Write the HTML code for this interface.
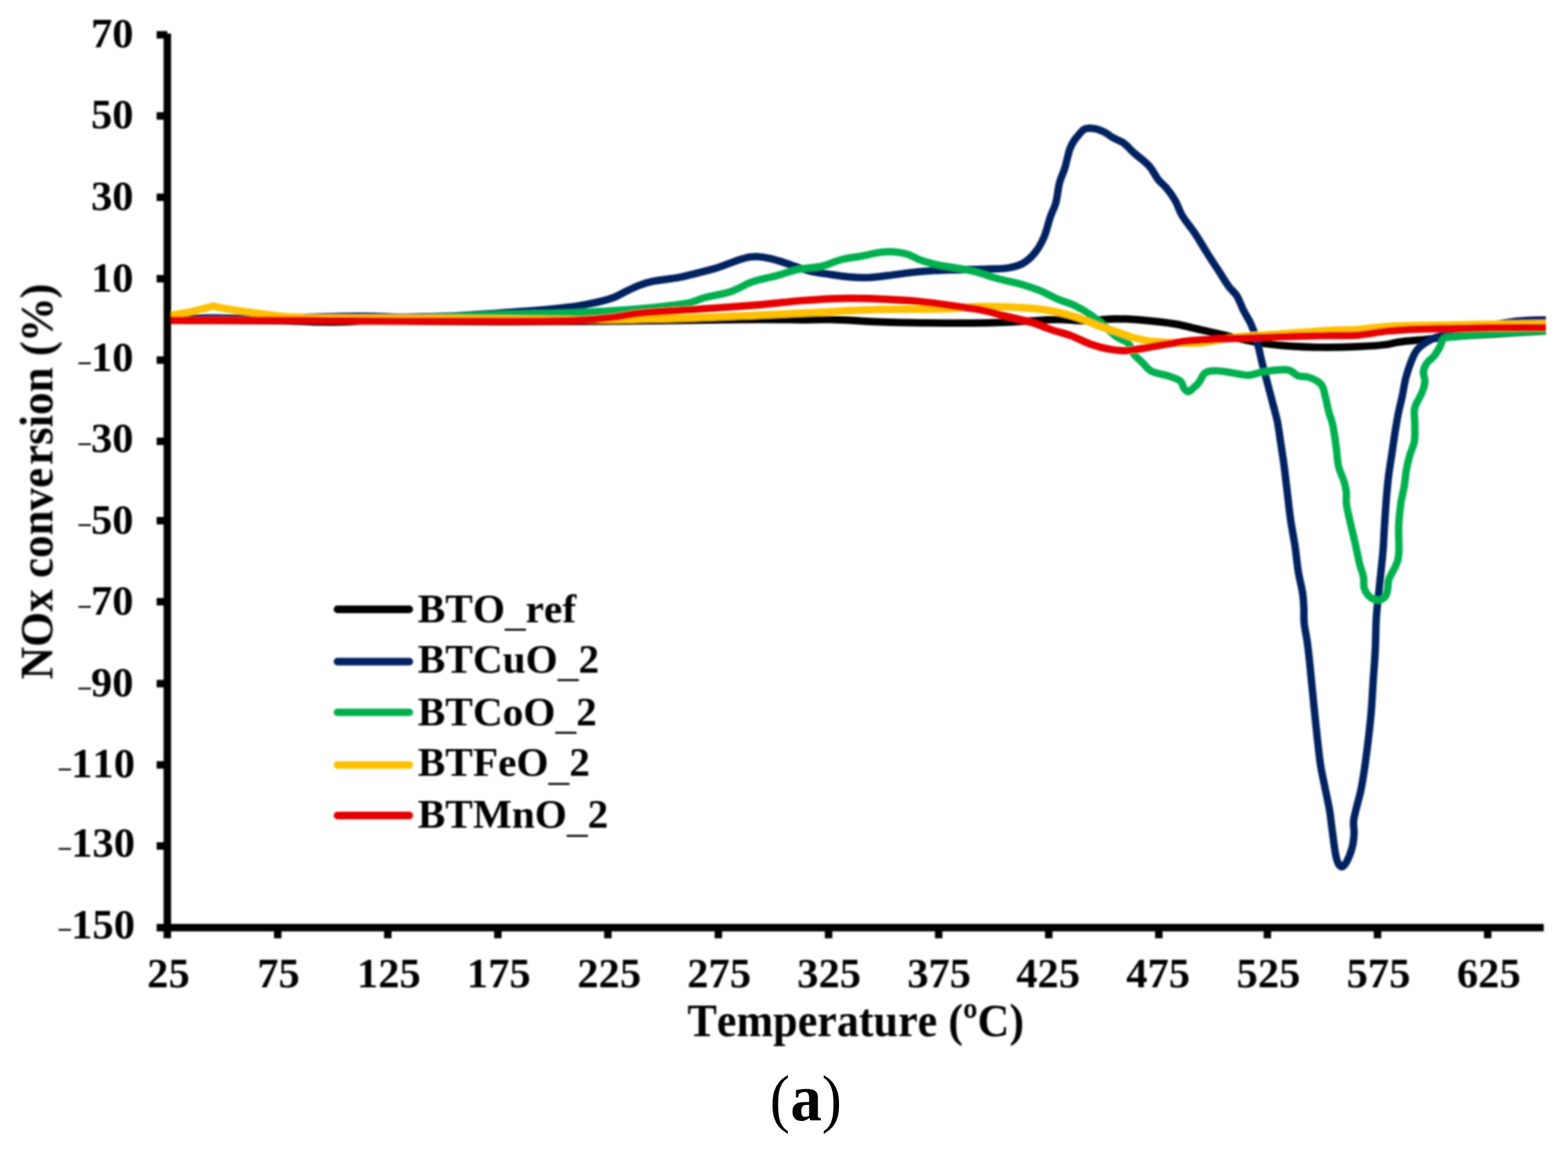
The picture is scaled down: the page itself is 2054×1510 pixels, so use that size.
<!DOCTYPE html>
<html lang="en">
<head>
<meta charset="utf-8">
<title>NOx conversion vs temperature</title>
<style>
html,body{margin:0;padding:0;background:#fff;}
body{width:2054px;height:1510px;overflow:hidden;}
svg{display:block;}
text{font-family:"Liberation Serif","DejaVu Serif",serif;fill:#000;font-weight:bold;font-kerning:none;}
.n{font-weight:normal;}
.curve{fill:none;stroke-width:9.7;stroke-linejoin:round;stroke-linecap:butt;}
</style>
</head>
<body>
<svg width="2054" height="1510" viewBox="0 0 2054 1510">
<defs><filter id="soft" x="0" y="0" width="2054" height="1510" filterUnits="userSpaceOnUse"><feGaussianBlur stdDeviation="0.8"/></filter></defs>
<rect width="2054" height="1510" fill="#ffffff"/>
<g filter="url(#soft)">

<g id="curves">
<path class="curve" stroke="#000000" d="M219.0,419.5C272.7,419.8 344.3,419.6 380.0,420.3C397.8,420.7 407.6,421.5 420.0,421.7C430.7,421.9 440.5,421.9 450.0,421.7C458.7,421.5 465.4,420.7 475.0,420.5C487.8,420.2 501.1,420.4 520.0,420.5C552.1,420.6 608.5,421.5 650.0,421.5C688.2,421.5 728.8,421.0 760.0,420.8C783.0,420.7 798.2,420.7 820.0,420.5C846.1,420.3 876.7,419.6 906.0,419.3C936.6,419.0 973.6,418.5 1000.0,418.5C1019.3,418.5 1033.8,418.8 1050.0,418.8C1065.3,418.8 1079.4,418.2 1094.8,418.6C1111.3,419.0 1126.4,420.7 1146.0,421.4C1172.5,422.4 1211.7,422.9 1239.6,423.1C1262.2,423.2 1281.5,423.3 1301.0,422.7C1318.8,422.2 1336.9,420.9 1352.2,420.1C1364.7,419.5 1374.9,418.4 1386.3,418.4C1397.7,418.4 1408.4,420.2 1420.4,420.1C1433.8,420.0 1448.8,417.6 1463.0,417.6C1477.2,417.6 1492.2,418.9 1505.6,420.1C1517.6,421.2 1528.3,422.4 1539.6,424.4C1551.0,426.4 1563.1,429.6 1573.7,432.0C1583.0,434.1 1592.0,436.1 1600.0,438.0C1606.7,439.6 1611.2,440.9 1618.4,442.5C1628.5,444.7 1642.7,448.0 1654.9,449.8C1667.0,451.6 1678.7,452.6 1691.4,453.4C1705.3,454.3 1720.7,454.8 1735.3,454.9C1749.9,455.0 1765.2,454.6 1779.1,453.9C1791.8,453.3 1805.9,452.5 1815.6,451.2C1822.0,450.3 1825.2,449.0 1831.6,448.1C1841.1,446.7 1855.5,445.7 1867.4,444.5C1879.3,443.3 1889.7,442.1 1903.0,441.0C1919.8,439.6 1940.4,438.5 1960.0,437.3C1981.0,436.0 2003.3,434.8 2025.0,433.5"/>
<path class="curve" stroke="#002060" d="M219.0,418.0C232.7,417.5 246.4,416.7 260.0,416.5C273.4,416.3 283.7,416.6 300.0,416.5C325.8,416.4 372.4,416.0 400.0,415.5C419.5,415.2 434.3,414.5 450.0,414.3C464.1,414.1 477.6,414.1 490.0,414.3C500.7,414.5 509.0,415.4 520.0,415.5C533.5,415.7 550.9,415.2 565.0,414.8C577.4,414.5 587.3,414.1 600.0,413.5C615.2,412.7 632.0,411.5 650.0,410.3C671.0,408.8 698.1,407.1 718.2,405.2C734.1,403.7 746.7,402.6 760.8,400.1C775.1,397.5 792.6,393.8 803.4,389.9C810.5,387.3 814.7,384.1 820.4,381.4C826.0,378.7 831.7,375.8 837.4,373.7C843.0,371.6 847.8,370.1 854.5,368.6C863.8,366.5 878.0,365.5 888.5,363.5C897.7,361.7 905.6,359.6 914.1,357.5C922.6,355.4 931.2,353.4 939.7,350.7C948.3,348.0 957.5,343.8 965.2,341.3C971.4,339.3 977.3,337.3 982.3,336.5C986.1,335.9 988.8,336.0 992.6,336.2C997.6,336.5 1003.4,337.4 1009.6,338.8C1017.3,340.5 1026.7,343.8 1035.2,346.5C1043.8,349.2 1052.2,352.9 1060.8,355.0C1069.2,357.1 1077.8,357.9 1086.3,359.2C1094.8,360.5 1103.4,361.9 1111.9,362.6C1120.4,363.3 1128.9,363.8 1137.4,363.5C1145.9,363.2 1154.5,361.9 1163.0,360.9C1171.5,359.9 1180.0,358.5 1188.5,357.5C1197.0,356.5 1204.5,355.7 1214.1,355.0C1226.5,354.1 1243.1,353.7 1256.7,353.3C1269.2,352.9 1281.3,352.9 1292.6,352.4C1302.8,352.0 1313.1,352.3 1321.6,350.7C1328.6,349.4 1334.7,347.9 1340.3,344.7C1346.0,341.4 1351.2,336.5 1355.6,331.1C1360.4,325.3 1364.3,318.1 1367.6,310.6C1371.2,302.3 1373.3,291.3 1376.1,283.3C1378.4,276.9 1381.0,272.7 1382.9,266.3C1385.2,258.4 1385.8,247.2 1388.0,239.0C1389.9,232.1 1392.7,227.1 1394.8,220.3C1397.3,212.5 1399.1,201.2 1401.6,194.7C1403.2,190.4 1404.8,187.6 1406.8,184.5C1408.8,181.4 1411.3,178.6 1413.6,176.0C1415.8,173.5 1417.5,170.5 1420.4,169.2C1423.6,167.7 1428.2,167.8 1432.3,168.3C1436.7,168.8 1441.6,170.6 1445.9,172.6C1450.2,174.6 1453.7,177.9 1457.9,180.3C1462.2,182.8 1467.2,184.1 1471.5,187.1C1476.3,190.4 1480.1,195.3 1485.1,199.9C1491.2,205.4 1500.0,211.4 1505.6,217.7C1510.6,223.3 1513.4,230.6 1517.5,235.6C1520.8,239.7 1524.3,241.9 1527.7,245.9C1531.7,250.7 1536.2,256.9 1539.6,262.9C1543.0,268.8 1544.5,275.2 1548.2,281.6C1552.6,289.3 1559.7,297.2 1565.2,305.5C1571.0,314.2 1576.7,324.2 1582.2,332.8C1587.1,340.6 1591.8,347.6 1596.5,354.8C1601.0,361.7 1605.4,369.5 1609.7,375.3C1613.1,379.9 1616.9,382.4 1619.9,387.0C1623.4,392.3 1625.5,399.6 1628.6,405.9C1631.8,412.3 1636.0,418.3 1638.9,424.9C1641.8,431.5 1644.0,437.8 1646.2,445.4C1648.9,454.5 1651.2,466.7 1653.5,476.0C1655.5,483.9 1657.3,490.2 1659.3,498.0C1661.6,506.7 1664.2,516.5 1666.6,525.7C1669.0,534.8 1671.7,544.0 1673.5,553.0C1675.2,561.6 1676.1,569.6 1677.4,578.4C1678.8,587.8 1680.4,597.3 1681.8,607.6C1683.4,619.1 1684.7,631.9 1686.2,644.1C1687.7,656.3 1688.9,668.7 1690.6,680.7C1692.3,692.3 1694.7,703.6 1696.4,715.0C1698.1,726.4 1699.0,738.3 1700.8,749.2C1702.5,759.3 1705.4,769.7 1706.6,778.4C1707.5,785.4 1707.7,791.2 1708.0,797.4C1708.3,803.3 1707.7,808.5 1708.3,814.9C1709.0,822.8 1711.3,832.5 1712.5,841.2C1713.7,849.6 1714.5,857.4 1715.4,866.0C1716.4,875.4 1717.3,885.5 1718.3,895.3C1719.3,905.0 1720.1,913.9 1721.2,924.5C1722.5,937.2 1724.1,953.0 1725.6,966.5C1727.0,979.1 1728.2,991.5 1730.0,1003.0C1731.6,1013.3 1733.9,1022.5 1735.8,1032.2C1737.8,1041.9 1740.2,1052.3 1741.7,1061.4C1743.0,1069.2 1743.6,1076.1 1744.6,1083.4C1745.6,1090.7 1746.5,1098.4 1747.5,1105.3C1748.4,1111.5 1749.2,1118.0 1750.4,1122.8C1751.3,1126.3 1751.9,1129.4 1753.4,1131.6C1754.5,1133.3 1756.3,1135.2 1757.7,1135.2C1759.2,1135.2 1760.7,1133.3 1762.1,1131.6C1764.2,1129.0 1766.3,1124.1 1768.0,1119.9C1769.8,1115.4 1771.3,1110.2 1772.3,1105.3C1773.2,1100.5 1773.7,1095.6 1773.8,1090.7C1773.9,1085.8 1772.7,1081.1 1773.1,1076.0C1773.5,1070.4 1775.3,1064.7 1776.7,1058.5C1778.4,1051.3 1780.9,1043.1 1782.6,1035.2C1784.3,1027.1 1785.7,1018.3 1786.9,1010.3C1788.1,1002.8 1788.9,996.2 1789.9,988.4C1791.1,979.4 1792.4,968.9 1793.5,959.2C1794.6,949.5 1795.6,940.2 1796.4,930.0C1797.3,918.9 1797.8,907.5 1798.6,895.3C1799.5,881.5 1800.8,866.0 1801.5,851.4C1802.2,836.8 1802.1,820.7 1803.0,807.6C1803.7,796.9 1804.9,788.1 1805.9,778.4C1806.9,768.7 1807.9,758.9 1808.9,749.2C1809.9,739.5 1811.1,729.3 1811.8,720.0C1812.5,711.4 1812.6,704.7 1813.2,695.3C1814.0,682.8 1815.1,664.5 1816.2,651.4C1817.1,640.7 1817.9,631.9 1819.1,622.2C1820.3,612.5 1822.0,602.7 1823.5,593.0C1824.9,583.3 1826.3,573.1 1827.8,563.8C1829.2,555.2 1830.6,546.7 1832.2,539.0C1833.6,532.2 1835.1,526.8 1836.6,520.0C1838.3,512.2 1839.5,502.7 1841.6,494.6C1843.6,487.1 1846.1,479.5 1848.7,473.1C1850.9,467.8 1852.7,462.9 1855.9,458.8C1859.0,454.8 1863.2,451.6 1867.4,448.8C1871.7,445.9 1876.3,443.6 1881.7,441.7C1888.0,439.4 1895.4,438.2 1903.1,436.6C1911.9,434.8 1922.1,433.5 1931.8,431.5C1941.8,429.5 1952.1,426.4 1962.0,424.5C1971.5,422.7 1980.1,421.3 1990.0,420.4C2001.0,419.3 2013.3,419.3 2025.0,418.8"/>
<path class="curve" stroke="#00b050" d="M219.0,419.5C279.3,419.3 345.8,419.3 400.0,419.0C444.1,418.8 489.6,418.8 520.0,418.0C538.6,417.5 550.9,416.6 565.0,416.0C577.4,415.5 587.3,415.1 600.0,414.5C615.2,413.8 630.4,412.7 650.0,412.0C678.0,411.0 724.0,410.6 752.2,409.5C772.2,408.7 785.1,408.2 803.4,406.9C824.5,405.5 852.7,403.2 871.5,401.0C884.8,399.4 896.3,398.2 905.6,395.9C912.3,394.2 915.9,391.8 922.6,389.9C931.9,387.2 946.3,385.7 956.7,382.2C966.0,379.0 975.6,372.9 982.3,370.3C986.4,368.7 988.4,368.1 992.6,366.9C999.2,365.0 1009.7,363.2 1018.2,360.9C1026.7,358.6 1034.5,355.3 1043.7,353.3C1054.2,351.0 1067.4,350.7 1077.8,348.2C1087.0,346.0 1094.7,341.7 1103.3,339.6C1111.7,337.5 1120.4,336.9 1128.9,335.4C1137.4,333.8 1146.8,331.2 1154.5,330.3C1160.7,329.6 1165.9,329.5 1171.5,329.9C1177.2,330.3 1182.9,331.1 1188.5,332.8C1194.3,334.6 1199.8,338.3 1205.6,340.5C1211.2,342.6 1215.9,344.0 1222.6,345.6C1232.0,347.8 1247.0,349.8 1256.7,351.6C1263.9,353.0 1268.4,353.6 1275.6,355.4C1285.3,357.8 1299.0,362.8 1309.6,365.6C1318.7,368.0 1326.7,369.2 1335.2,371.6C1343.8,374.0 1352.4,376.7 1360.8,380.1C1369.4,383.5 1378.2,388.6 1386.3,392.0C1393.4,395.0 1400.0,396.5 1406.8,399.7C1414.2,403.2 1422.2,407.9 1428.9,412.5C1435.1,416.7 1440.3,421.4 1445.9,426.1C1451.7,431.0 1457.2,437.3 1463.0,441.4C1468.0,445.0 1474.6,446.0 1478.3,449.9C1481.8,453.5 1482.1,459.4 1485.1,463.6C1488.3,468.0 1493.3,471.7 1497.1,475.5C1500.6,479.0 1502.8,483.0 1507.3,485.7C1513.3,489.2 1524.1,489.9 1531.1,492.5C1536.9,494.6 1543.0,496.1 1546.5,499.4C1549.3,502.1 1549.5,507.3 1551.6,509.6C1553.1,511.3 1554.9,513.1 1556.7,513.0C1558.8,512.9 1561.3,509.8 1563.5,507.9C1565.8,505.9 1568.0,503.9 1570.3,501.1C1573.2,497.6 1575.1,490.6 1579.0,488.0C1582.6,485.6 1587.1,485.7 1592.1,485.5C1598.8,485.3 1608.0,487.5 1615.5,488.5C1622.6,489.5 1629.3,491.7 1636.0,491.4C1642.5,491.1 1647.6,488.1 1654.9,487.0C1664.5,485.6 1680.4,482.8 1688.5,484.8C1693.7,486.1 1695.9,490.5 1700.2,492.1C1704.6,493.7 1710.0,492.6 1714.8,494.3C1720.2,496.2 1727.3,499.4 1730.9,503.8C1734.3,508.0 1734.6,514.3 1736.2,519.9C1737.9,526.0 1738.9,532.9 1740.5,539.0C1742.0,544.6 1744.0,548.7 1745.5,555.0C1747.5,563.5 1749.0,576.0 1750.4,585.7C1751.6,594.4 1751.6,602.7 1753.4,610.5C1755.1,617.8 1758.9,624.9 1760.7,631.0C1762.1,635.8 1763.1,639.6 1763.6,644.1C1764.1,648.8 1763.1,653.4 1763.6,658.7C1764.3,665.3 1766.4,673.2 1768.0,680.7C1769.7,688.7 1772.1,698.1 1773.8,705.5C1775.2,711.6 1776.3,716.5 1777.5,722.0C1778.7,727.6 1779.7,733.3 1781.1,739.0C1782.6,744.8 1785.3,751.0 1786.2,756.5C1787.0,761.2 1785.9,765.9 1786.9,769.7C1787.8,773.0 1789.3,776.0 1791.3,778.4C1793.2,780.8 1795.9,783.1 1798.6,784.3C1801.3,785.5 1804.7,786.2 1807.4,785.7C1810.0,785.2 1813.0,783.4 1814.7,781.3C1816.5,779.1 1816.9,775.8 1817.6,772.6C1818.5,768.7 1817.9,763.6 1819.1,759.4C1820.3,755.3 1823.0,751.7 1824.9,747.7C1826.9,743.5 1829.5,739.0 1830.8,734.6C1832.0,730.4 1832.2,727.2 1832.5,722.0C1833.0,713.4 1831.7,698.9 1832.2,688.0C1832.7,677.9 1833.8,667.7 1835.1,658.7C1836.3,650.8 1838.3,644.1 1839.5,636.8C1840.7,629.5 1841.1,621.9 1842.4,614.9C1843.6,608.3 1845.1,602.1 1846.8,596.0C1848.5,590.0 1851.6,584.7 1852.7,578.4C1853.9,571.6 1853.4,563.5 1853.4,556.5C1853.4,549.9 1852.2,542.3 1852.7,537.5C1853.0,534.5 1853.5,533.2 1854.5,530.4C1856.2,525.8 1861.1,518.8 1863.1,513.2C1864.9,508.3 1866.5,503.4 1866.6,498.9C1866.7,494.9 1864.2,491.3 1864.5,487.5C1864.8,483.6 1866.6,479.5 1868.8,476.0C1871.2,472.3 1875.9,469.6 1878.8,466.0C1881.6,462.4 1883.8,458.4 1886.0,454.5C1888.1,450.7 1888.7,445.3 1891.7,443.1C1894.5,441.0 1898.4,441.8 1903.1,441.2C1910.5,440.3 1921.3,439.4 1931.8,438.6C1944.7,437.6 1959.8,436.7 1974.7,435.8C1990.8,434.8 2008.2,433.8 2025.0,432.8"/>
<path class="curve" stroke="#ffc000" d="M219.0,413.5C229.3,411.8 240.8,410.2 250.0,408.3C257.4,406.7 265.0,404.5 270.0,403.2C272.9,402.4 275.2,401.8 277.0,401.4C278.1,401.2 278.8,400.9 279.6,400.9C280.4,400.9 281.0,401.2 282.0,401.4C283.7,401.8 286.0,402.4 289.0,403.0C294.1,404.0 302.4,405.3 310.0,406.5C319.1,407.9 330.5,409.3 340.0,410.6C348.7,411.8 356.0,412.9 365.0,413.8C375.7,414.8 387.3,415.5 400.0,416.0C415.2,416.6 430.1,416.4 450.0,416.5C479.5,416.7 525.2,416.6 560.0,416.8C591.5,417.0 616.0,417.2 650.0,417.5C694.3,417.8 771.0,418.9 803.0,418.6C817.6,418.5 822.2,418.1 835.0,417.8C854.0,417.3 882.1,416.9 906.0,416.2C930.4,415.4 954.9,414.4 980.0,413.3C1006.1,412.2 1032.2,410.9 1060.0,409.6C1090.2,408.2 1123.8,406.1 1154.5,405.2C1183.6,404.4 1215.8,405.3 1239.6,404.4C1256.8,403.7 1270.2,401.8 1284.0,401.4C1296.1,401.1 1306.8,401.5 1318.2,401.9C1329.6,402.3 1340.9,402.7 1352.2,403.9C1363.6,405.1 1375.8,406.8 1386.3,409.0C1395.5,410.9 1403.5,413.1 1411.9,415.9C1420.5,418.8 1428.8,423.0 1437.4,426.1C1445.9,429.2 1454.5,431.8 1463.0,434.6C1471.5,437.4 1479.9,441.0 1488.5,443.1C1496.9,445.2 1504.5,446.4 1514.1,447.4C1526.5,448.7 1545.5,449.4 1556.7,449.5C1564.1,449.6 1567.6,449.7 1575.0,449.0C1586.4,447.9 1602.8,443.4 1618.4,441.5C1636.4,439.3 1657.3,438.7 1676.8,437.3C1696.3,435.9 1717.2,434.0 1735.3,433.0C1750.9,432.1 1765.0,432.3 1779.1,431.3C1792.3,430.4 1804.2,428.4 1817.3,427.5C1831.1,426.6 1845.7,426.5 1860.0,426.2C1874.3,425.9 1888.7,425.9 1903.1,425.6C1917.4,425.4 1929.6,425.0 1946.1,424.7C1968.4,424.4 1998.7,424.2 2025.0,423.9"/>
<path class="curve" stroke="#e60000" d="M219.0,419.5C279.3,419.5 346.4,419.3 400.0,419.5C443.0,419.7 475.9,420.3 516.0,420.5C559.1,420.7 608.4,420.8 650.0,420.6C686.3,420.5 723.8,421.0 752.0,419.7C772.1,418.8 788.1,417.3 803.4,415.5C815.9,414.0 824.1,411.8 837.4,410.3C856.2,408.2 884.5,407.0 905.6,405.5C923.9,404.2 940.3,403.2 956.7,402.0C972.0,400.9 985.7,399.9 1001.0,398.6C1017.5,397.1 1035.1,394.8 1052.2,393.5C1069.2,392.2 1086.3,391.1 1103.3,390.8C1120.4,390.5 1137.5,390.9 1154.5,391.6C1171.6,392.3 1188.6,393.3 1205.6,395.0C1222.7,396.7 1242.3,399.8 1256.7,401.8C1267.2,403.2 1274.4,403.7 1284.0,405.6C1294.8,407.7 1306.8,411.3 1318.2,414.2C1329.5,417.0 1341.7,419.5 1352.2,422.7C1361.4,425.5 1369.2,429.2 1377.8,432.0C1386.3,434.8 1394.9,436.6 1403.3,439.7C1411.9,442.9 1420.3,447.8 1428.9,450.8C1437.3,453.7 1446.8,456.2 1454.5,457.6C1460.7,458.7 1465.8,459.3 1471.5,459.3C1477.2,459.3 1481.9,458.5 1488.5,457.6C1497.9,456.3 1511.2,453.5 1522.6,451.6C1534.0,449.8 1544.6,447.8 1556.7,446.5C1570.2,445.1 1588.6,444.3 1600.0,443.8C1607.4,443.4 1610.5,443.5 1618.4,443.2C1632.4,442.7 1657.3,441.6 1676.8,441.0C1696.3,440.4 1717.2,439.9 1735.3,439.5C1751.0,439.2 1765.0,439.9 1779.1,438.8C1792.3,437.8 1804.2,434.8 1817.3,433.5C1831.1,432.1 1845.7,431.4 1860.0,430.8C1874.3,430.2 1887.7,430.5 1903.1,430.2C1920.8,429.9 1940.7,429.3 1960.4,429.1C1981.3,428.9 2003.5,429.0 2025.0,428.9"/>
</g>
<g id="axes" stroke="#000" fill="none">
<line x1="219.2" y1="44.1" x2="219.2" y2="1228.8" stroke-width="9.8"/>
<line x1="205.2" y1="1214.9" x2="2022.2" y2="1214.9" stroke-width="9.8"/>
<line x1="205.2" y1="45.6" x2="219.2" y2="45.6" stroke-width="9.8"/>
<line x1="205.2" y1="151.8" x2="219.2" y2="151.8" stroke-width="9.8"/>
<line x1="205.2" y1="258.4" x2="219.2" y2="258.4" stroke-width="9.8"/>
<line x1="205.2" y1="365.0" x2="219.2" y2="365.0" stroke-width="9.8"/>
<line x1="205.2" y1="471.6" x2="219.2" y2="471.6" stroke-width="9.8"/>
<line x1="205.2" y1="578.0" x2="219.2" y2="578.0" stroke-width="9.8"/>
<line x1="205.2" y1="681.9" x2="219.2" y2="681.9" stroke-width="9.8"/>
<line x1="205.2" y1="788.0" x2="219.2" y2="788.0" stroke-width="9.8"/>
<line x1="205.2" y1="895.3" x2="219.2" y2="895.3" stroke-width="9.8"/>
<line x1="205.2" y1="1001.7" x2="219.2" y2="1001.7" stroke-width="9.8"/>
<line x1="205.2" y1="1107.9" x2="219.2" y2="1107.9" stroke-width="9.8"/>
<line x1="363.8" y1="1214.9" x2="363.8" y2="1228.8" stroke-width="9.8"/>
<line x1="508.0" y1="1214.9" x2="508.0" y2="1228.8" stroke-width="9.8"/>
<line x1="652.2" y1="1214.9" x2="652.2" y2="1228.8" stroke-width="9.8"/>
<line x1="796.3" y1="1214.9" x2="796.3" y2="1228.8" stroke-width="9.8"/>
<line x1="941.0" y1="1214.9" x2="941.0" y2="1228.8" stroke-width="9.8"/>
<line x1="1085.4" y1="1214.9" x2="1085.4" y2="1228.8" stroke-width="9.8"/>
<line x1="1229.6" y1="1214.9" x2="1229.6" y2="1228.8" stroke-width="9.8"/>
<line x1="1373.8" y1="1214.9" x2="1373.8" y2="1228.8" stroke-width="9.8"/>
<line x1="1518.0" y1="1214.9" x2="1518.0" y2="1228.8" stroke-width="9.8"/>
<line x1="1660.2" y1="1214.9" x2="1660.2" y2="1228.8" stroke-width="9.8"/>
<line x1="1804.5" y1="1214.9" x2="1804.5" y2="1228.8" stroke-width="9.8"/>
<line x1="1948.8" y1="1214.9" x2="1948.8" y2="1228.8" stroke-width="9.8"/>
</g>
<g id="yticks" font-size="54">
<text transform="translate(119.19,61.70) scale(1.032,1)">70</text>
<text transform="translate(119.19,168.10) scale(1.032,1)">50</text>
<text transform="translate(119.19,274.70) scale(1.032,1)">30</text>
<text transform="translate(119.19,381.70) scale(1.032,1)">10</text>
<text transform="translate(119.19,486.10) scale(1.032,1)"><tspan font-size="34" x="-17.82" y="0.9">−</tspan><tspan x="0" y="0">10</tspan></text>
<text transform="translate(119.19,591.70) scale(1.032,1)"><tspan font-size="34" x="-17.82" y="0.9">−</tspan><tspan x="0" y="0">30</tspan></text>
<text transform="translate(119.19,698.50) scale(1.032,1)"><tspan font-size="34" x="-17.82" y="0.9">−</tspan><tspan x="0" y="0">50</tspan></text>
<text transform="translate(119.19,804.60) scale(1.032,1)"><tspan font-size="34" x="-17.82" y="0.9">−</tspan><tspan x="0" y="0">70</tspan></text>
<text transform="translate(119.19,912.00) scale(1.032,1)"><tspan font-size="34" x="-17.82" y="0.9">−</tspan><tspan x="0" y="0">90</tspan></text>
<text transform="translate(93.23,1018.30) scale(1.032,1)"><tspan font-size="34" x="-18.00" y="0.9">−</tspan><tspan x="0" y="0">110</tspan></text>
<text transform="translate(93.23,1122.30) scale(1.032,1)"><tspan font-size="34" x="-18.00" y="0.9">−</tspan><tspan x="0" y="0">130</tspan></text>
<text transform="translate(93.23,1228.50) scale(1.032,1)"><tspan font-size="34" x="-18.00" y="0.9">−</tspan><tspan x="0" y="0">150</tspan></text>
</g>
<g id="xticks" font-size="54">
<text transform="translate(192.79,1292.80) scale(1.032,1)">25</text>
<text transform="translate(336.96,1292.80) scale(1.032,1)">75</text>
<text transform="translate(467.59,1292.80) scale(1.032,1)">125</text>
<text transform="translate(611.59,1292.80) scale(1.032,1)">175</text>
<text transform="translate(756.25,1292.80) scale(1.032,1)">225</text>
<text transform="translate(900.25,1292.80) scale(1.032,1)">275</text>
<text transform="translate(1044.28,1292.80) scale(1.032,1)">325</text>
<text transform="translate(1188.38,1292.80) scale(1.032,1)">375</text>
<text transform="translate(1331.24,1292.80) scale(1.032,1)">425</text>
<text transform="translate(1475.34,1292.80) scale(1.032,1)">475</text>
<text transform="translate(1619.81,1292.80) scale(1.032,1)">525</text>
<text transform="translate(1763.91,1292.80) scale(1.032,1)">575</text>
<text transform="translate(1908.47,1292.80) scale(1.032,1)">625</text>
</g>
<text font-size="62" text-anchor="middle" transform="translate(1121,1356.5) scale(0.932,1)">Temperature (ºC)</text>
<text font-size="62" text-anchor="middle" transform="translate(68.6,630.6) rotate(-90) scale(0.952,1)">NOx conve<tspan dx="4">rsion (</tspan><tspan dx="-1.6">%</tspan><tspan dx="-1.9">)</tspan></text>
<g id="legend" font-size="53.6">
<line x1="442" y1="798.0" x2="536.2" y2="798.0" stroke="#000000" stroke-width="9.8" stroke-linecap="round"/>
<text transform="translate(547.2,814.5) scale(1.01,1)">BTO<tspan class="n" dy="4.7">_</tspan><tspan dy="-4.7">ref</tspan></text>
<line x1="442" y1="866.5" x2="536.2" y2="866.5" stroke="#002060" stroke-width="9.8" stroke-linecap="round"/>
<text transform="translate(547.2,880.7) scale(1.01,1)">BTCuO<tspan class="n" dy="4.7">_</tspan><tspan dy="-4.7">2</tspan></text>
<line x1="442" y1="932.9" x2="536.2" y2="932.9" stroke="#00b050" stroke-width="9.8" stroke-linecap="round"/>
<text transform="translate(547.2,949.6) scale(1.01,1)">BTCoO<tspan class="n" dy="4.7">_</tspan><tspan dy="-4.7">2</tspan></text>
<line x1="442" y1="1001.8" x2="536.2" y2="1001.8" stroke="#ffc000" stroke-width="9.8" stroke-linecap="round"/>
<text transform="translate(547.2,1016.0) scale(1.01,1)">BTFeO<tspan class="n" dy="4.7">_</tspan><tspan dy="-4.7">2</tspan></text>
<line x1="442" y1="1068.0" x2="536.2" y2="1068.0" stroke="#e60000" stroke-width="9.8" stroke-linecap="round"/>
<text transform="translate(547.2,1084.2) scale(1.01,1)">BTMnO<tspan class="n" dy="4.7">_</tspan><tspan dy="-4.7">2</tspan></text>
</g>
</g>
<text class="n" transform="translate(1008.4,1467) scale(0.92,1)"><tspan font-size="85.2" x="0" y="0">(</tspan><tspan font-size="89" style="font-weight:bold" x="29.4" y="0.2">a</tspan><tspan font-size="85.2" x="73.96" y="0">)</tspan></text>
</svg>
</body>
</html>
